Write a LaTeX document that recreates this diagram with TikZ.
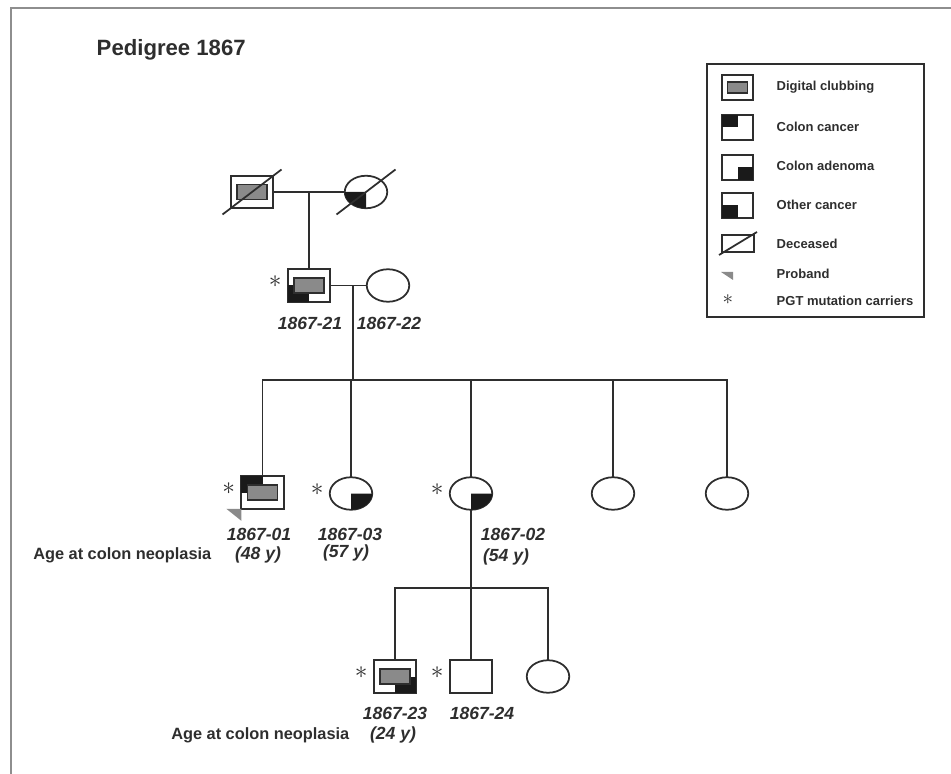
\documentclass[tikz,border=0pt]{standalone}
\usepackage{fontspec}
\setmainfont{Liberation Sans}
\usetikzlibrary{shapes.geometric, calc}
\definecolor{ink}{HTML}{2E2E2E}
\definecolor{blk}{HTML}{1A1A1A}
\definecolor{clubgray}{HTML}{8A8A8A}
\definecolor{framegray}{HTML}{8E8E8E}

\begin{document}
\begin{tikzpicture}[line width=1pt, color=ink,
    sq/.style={draw, fill=white, minimum width=.85cm, minimum height=.65cm, inner sep=0pt, outer sep=0pt},
    ci/.style={ellipse, draw, fill=white, minimum width=.85cm, minimum height=.65cm, inner sep=0pt, outer sep=0pt},
    club/.style={draw=ink, fill=clubgray, line width=1.1pt, minimum width=.6cm, minimum height=.3cm, inner sep=0pt},
    carrier/.style={label={[label distance=3pt, yshift=2pt, inner sep=0pt, text=ink, font=\fontsize{15}{15}\selectfont]left:$\ast$}},
    idlabel/.style={font=\fontsize{10}{12}\selectfont\bfseries\itshape},
    age/.style={font=\fontsize{9.3}{11}\selectfont\bfseries},
    lgtext/.style={anchor=west, font=\fontsize{7.4}{9}\selectfont\bfseries}]
    \useasboundingbox (0,0) rectangle (19.02,-15.48);
    \draw[framegray, line width=1.2pt] (0.22,-15.48) -- (0.22,-0.16) -- (19.02,-0.16);
    \node[anchor=west, font=\fontsize{12.6}{15}\selectfont\bfseries] (title) at (1.8,-1.0) {Pedigree 1867};

    % generation I
    \node[sq] (i1) at (5.04,-3.84) {};
    \node[ci] (i2) at (7.32,-3.84) {};
    \node[club] (g1) at (i1) {};
    \fill[blk] (i2.center) -- (i2.west) arc[start angle=180, end angle=270, x radius=.425cm, y radius=.325cm] -- cycle;
    \draw (i1.center) ++(-0.59,-0.45) -- ++(1.18,0.9);
    \draw (i2.center) ++(-0.59,-0.45) -- ++(1.18,0.9);
    \draw (i1) -- (i2);
    \coordinate (u1) at ($(i1.east)!.5!(i2.west)$);

    % generation II
    \node[sq, carrier] (n21) at (6.18,-5.71) {};
    \node[ci] (n22) at (7.76,-5.71) {};
    \fill[blk] (n21.south west) rectangle (n21.center);
    \node[club] (g21) at (n21) {};
    \draw (u1) -- (n21);
    \draw (n21) -- (n22);
    \coordinate (u2) at (7.06,-5.71);
    \coordinate (s2) at (7.06,-7.6);
    \draw (u2) -- (s2);
    \node[idlabel] (l21) at (6.2,-6.46) {1867-21};
    \node[idlabel] (l22) at (7.78,-6.46) {1867-22};

    % generation III
    \node[sq, carrier] (n01) at (5.25,-9.85) {};
    \node[ci, carrier] (n03) at (7.02,-9.87) {};
    \node[ci, carrier] (n02) at (9.42,-9.87) {};
    \node[ci] (sis1) at (12.26,-9.87) {};
    \node[ci] (sis2) at (14.54,-9.87) {};
    \fill[blk] (n01.north west) rectangle (n01.center);
    \node[club] (g01) at (n01) {};
    \fill[clubgray] (n01.south west) -- ++(-0.3,0) -- ++(0.3,-0.24) -- cycle;
    \foreach \k in {n03, n02}
      \fill[blk] (\k.center) -- (\k.south) arc[start angle=270, end angle=360, x radius=.425cm, y radius=.325cm] -- cycle;
    \draw (n01.north) -- (n01.north |- s2) -- (sis2.north |- s2) -- (sis2.north);
    \foreach \k in {n03, n02, sis1}
      \draw (\k.north) -- (\k.north |- s2);
    \node[idlabel] (l01) at (5.18,-10.68) {1867-01};
    \node[idlabel] (l03) at (7.0,-10.68) {1867-03};
    \node[idlabel] (l02) at (10.26,-10.68) {1867-02};
    \node[idlabel] (a01) at (5.16,-11.1) {(48 y)};
    \node[idlabel] (a03) at (6.92,-11.06) {(57 y)};
    \node[idlabel] (a02) at (10.12,-11.14) {(54 y)};
    \node[age, anchor=east] (age1) at (4.36,-11.1) {Age at colon neoplasia};

    % generation IV
    \coordinate (s3) at (9.42,-11.76);
    \draw (n02.south) -- (s3);
    \node[sq, carrier] (n23) at (7.9,-13.53) {};
    \node[sq, carrier] (n24) at (9.42,-13.53) {};
    \node[ci] (sis3) at (10.96,-13.53) {};
    \fill[blk] (n23.south east) rectangle (n23.center);
    \node[club] (g23) at (n23) {};
    \draw (n23.north) -- (n23.north |- s3) -- (sis3.north |- s3) -- (sis3.north);
    \draw (s3) -- (n24.north);
    \node[idlabel] (l23) at (7.9,-14.26) {1867-23};
    \node[idlabel] (l24) at (9.64,-14.26) {1867-24};
    \node[idlabel] (a23) at (7.86,-14.7) {(24 y)};
    \node[age, anchor=east] (age2) at (7.12,-14.7) {Age at colon neoplasia};

    % legend
    \draw (14.14,-1.28) rectangle (18.48,-6.34);
    \node[sq, minimum width=.62cm, minimum height=.5cm] (lg1) at (14.75,-1.75) {};
    \node[club, minimum width=.4cm, minimum height=.22cm] (lgc) at (lg1) {};
    \node[sq, minimum width=.62cm, minimum height=.5cm] (lg2) at (14.75,-2.55) {};
    \fill[blk] (lg2.north west) rectangle (lg2.center);
    \node[sq, minimum width=.62cm, minimum height=.5cm] (lg3) at (14.75,-3.35) {};
    \fill[blk] (lg3.south east) rectangle (lg3.center);
    \node[sq, minimum width=.62cm, minimum height=.5cm] (lg4) at (14.75,-4.11) {};
    \fill[blk] (lg4.south west) rectangle (lg4.center);
    \node[sq, minimum width=.64cm, minimum height=.34cm] (lg5) at (14.76,-4.87) {};
    \draw (lg5.center) ++(-0.38,-0.23) -- ++(0.76,0.46);
    \fill[clubgray] (14.42,-5.44) -- (14.66,-5.44) -- (14.66,-5.6) -- cycle;
    \node[inner sep=0pt, font=\fontsize{13}{13}\selectfont] (lgs) at (14.56,-6.0) {$\ast$};
    \node[lgtext] (t1) at (15.4,-1.74) {Digital clubbing};
    \node[lgtext] (t2) at (15.4,-2.54) {Colon cancer};
    \node[lgtext] (t3) at (15.4,-3.32) {Colon adenoma};
    \node[lgtext] (t4) at (15.4,-4.1) {Other cancer};
    \node[lgtext] (t5) at (15.4,-4.88) {Deceased};
    \node[lgtext] (t6) at (15.4,-5.48) {Proband};
    \node[lgtext] (t7) at (15.4,-6.02) {PGT mutation carriers};
\end{tikzpicture}
\end{document}
